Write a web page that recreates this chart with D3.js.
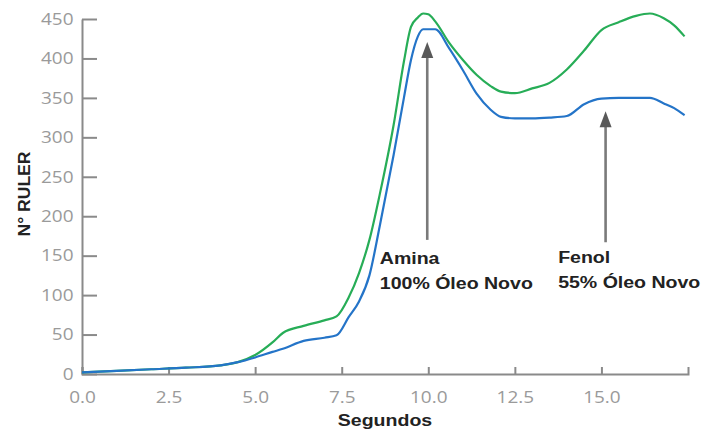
<!DOCTYPE html>
<html>
<head>
<meta charset="utf-8">
<script src="https://cdn.jsdelivr.net/npm/d3@7"></script>
<style>
  body { margin: 0; background: #fff; }
</style>
</head>
<body>
<div id="chart"></div>
<script>
// time in seconds
var segundos = [0, 1, 2, 3, 4, 4.5, 5, 5.5, 5.8, 6.4, 7, 7.35, 7.7, 8, 8.3, 8.6, 9, 9.3, 9.5, 9.7, 9.85, 10, 10.2, 10.6, 11, 11.4, 11.8, 12.1, 12.5, 13, 13.5, 14, 14.5, 15, 15.5, 16, 16.4, 16.8, 17.1, 17.4];
// green curve (amina)
var serieVerde = [2, 4, 6, 8, 11, 15, 24, 40, 52, 61, 68, 73, 97, 128, 170, 228, 316, 397, 440, 452, 457, 456, 447, 420, 398, 379, 365, 358, 356, 362, 369, 386, 410, 436, 446, 454, 457, 451, 442, 428];
// blue curve (fenol)
var serieAzul = [2, 4, 6, 8, 11, 15, 21, 28, 32, 42, 46, 49, 72, 92, 125, 188, 278, 351, 398, 428, 437, 437, 437, 413, 385, 355, 335, 326, 324, 324, 325, 327, 342, 349, 350, 350, 350, 343, 337, 328];

var xTicks = [0, 2.5, 5, 7.5, 10, 12.5, 15];
var yTicks = [0, 50, 100, 150, 200, 250, 300, 350, 400, 450];

var setaX = [9.97, 15.12];
var setaTopo = [421, 333];
var setaBase = [170, 167];
var rotulos = [["Amina", "100% Óleo Novo"], ["Fenol", "55% Óleo Novo"]];
var rotuloX = [8.6, 13.75];
var rotuloY = [139, 141];

var width = 702;
var height = 432;
var stretch = 1.15;

var svg = d3.select("#chart").append("svg")
    .attr("width", width)
    .attr("height", height);

var x = d3.scaleLinear().domain([0, 17.5]).range([82, 688]);
var y = d3.scaleLinear().domain([0, 450]).range([374, 19]);

// axes
var gy = svg.append("g")
    .attr("transform", "translate(82,0)")
    .style("color", "#8a8a8a")
    .call(d3.axisLeft(y).tickValues(yTicks).tickSize(-15).tickSizeOuter(0).tickPadding(8.5));
var gx = svg.append("g")
    .attr("transform", "translate(0,374)")
    .style("color", "#8a8a8a")
    .call(d3.axisBottom(x).tickValues(xTicks).tickSizeInner(-7).tickSizeOuter(-7)
        .tickPadding(17).tickFormat(d3.format(".1f")));

[gx, gy].forEach(function(g){
    g.selectAll("path, line").attr("stroke-width", 2);
    g.selectAll("text")
        .attr("fill", "#9a9a9a")
        .style("font-family", "'Open Sans', sans-serif")
        .style("font-size", "16.5px")
        .attr("transform", "scale(" + stretch + ",1)");
});
gy.selectAll("text").attr("x", -8.5 / stretch);

// lines
var dados = segundos.map(function(t, i){
    return {t: t, verde: serieVerde[i], azul: serieAzul[i]};
});

var linhaVerde = d3.line()
    .x(function(d){ return x(d.t); })
    .y(function(d){ return y(d.verde); })
    .curve(d3.curveMonotoneX);
var linhaAzul = d3.line()
    .x(function(d){ return x(d.t); })
    .y(function(d){ return y(d.azul); })
    .curve(d3.curveMonotoneX);

svg.append("path").datum(dados)
    .attr("d", linhaVerde)
    .attr("fill", "none")
    .attr("stroke", "#27ad57")
    .attr("stroke-width", 2.2);
svg.append("path").datum(dados)
    .attr("d", linhaAzul)
    .attr("fill", "none")
    .attr("stroke", "#2474c8")
    .attr("stroke-width", 2.2);

// arrows
setaX.forEach(function(t, i){
    var ax = x(t), top = y(setaTopo[i]), bot = y(setaBase[i]);
    svg.append("line")
        .attr("x1", ax).attr("x2", ax)
        .attr("y1", top + 12).attr("y2", bot)
        .attr("stroke", "#7a7a7a")
        .attr("stroke-width", 2.6);
    svg.append("path")
        .attr("d", "M" + ax + "," + top + " L" + (ax - 6) + "," + (top + 16) + " L" + (ax + 6) + "," + (top + 16) + " Z")
        .attr("fill", "#595959");
});

// annotation labels
rotulos.forEach(function(linhas, i){
    var t = svg.append("text")
        .attr("transform", "translate(" + x(rotuloX[i]) + "," + y(rotuloY[i]) + ") scale(" + stretch + ",1)")
        .attr("fill", "#222")
        .style("font-family", "'Liberation Sans', Arial, sans-serif")
        .style("font-weight", "bold")
        .style("font-size", "17px");
    linhas.forEach(function(s, j){
        t.append("tspan").attr("x", 0).attr("dy", j == 0 ? 0 : 25).text(s);
    });
});

// axis titles
svg.append("text")
    .attr("transform", "translate(385,426) scale(" + stretch + ",1)")
    .attr("text-anchor", "middle")
    .attr("fill", "#222")
    .style("font-family", "'Liberation Sans', Arial, sans-serif")
    .style("font-weight", "bold")
    .style("font-size", "17px")
    .text("Segundos");

svg.append("text")
    .attr("transform", "translate(30,194) rotate(-90)")
    .attr("text-anchor", "middle")
    .attr("fill", "#222")
    .style("font-family", "'Liberation Sans', Arial, sans-serif")
    .style("font-weight", "bold")
    .style("font-size", "16.5px")
    .attr("textLength", 85)
    .attr("lengthAdjust", "spacingAndGlyphs")
    .text("N° RULER");
</script>
</body>
</html>
